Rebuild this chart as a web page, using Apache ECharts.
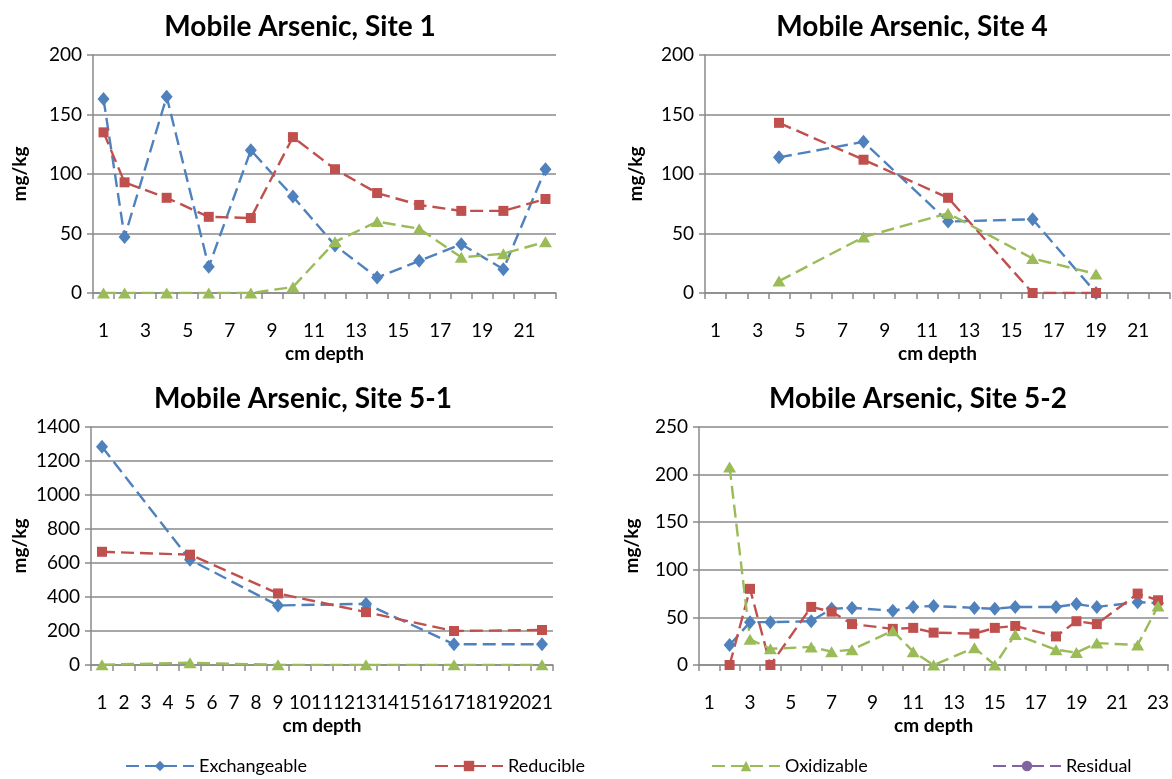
<!DOCTYPE html>
<html>
<head>
<meta charset="utf-8">
<title>Mobile Arsenic</title>
<script src="https://cdn.jsdelivr.net/npm/echarts@6/dist/echarts.min.js"></script>
<style>
  html, body { margin: 0; padding: 0; background: #fff; }
  #chart { width: 1172px; height: 779px; }
</style>
</head>
<body>
<div id="chart"></div>
<script>
// depth categories (cm) for each site
const site1Depth = ['1','2','3','4','5','6','7','8','9','10','11','12','13','14','15','16','17','18','19','20','21','22']
const site4Depth = ['1','2','3','4','5','6','7','8','9','10','11','12','13','14','15','16','17','18','19','20','21','22']
const site51Depth = ['1','2','3','4','5','6','7','8','9','10','11','12','13','14','15','16','17','18','19','20','21']
const site52Depth = ['1','2','3','4','5','6','7','8','9','10','11','12','13','14','15','16','17','18','19','20','21','22','23']

// Site 1 (mg/kg)
const site1Exch = [163, 47, null, 165, null, 22, null, 120, null, 81, null, 40, null, 13, null, 27, null, 41, null, 20, null, 104]
const site1Red = [135, 93, null, 80, null, 64, null, 63, null, 131, null, 104, null, 84, null, 74, null, 69, null, 69, null, 79]
const site1Oxi = [0, 0, null, 0, null, 0, null, 0, null, 5, null, 43, null, 60, null, 54, null, 30, null, 33, null, 43]

// Site 4
const site4Exch = [null, null, null, 114, null, null, null, 127, null, null, null, 60, null, null, null, 62, null, null, 0, null, null, null]
const site4Red = [null, null, null, 143, null, null, null, 112, null, null, null, 80, null, null, null, 0, null, null, 0, null, null, null]
const site4Oxi = [null, null, null, 10, null, null, null, 47, null, null, null, 67, null, null, null, 29, null, null, 16, null, null, null]

// Site 5-1
const site51Exch = [1284, null, null, null, 619, null, null, null, 350, null, null, null, 360, null, null, null, 122, null, null, null, 122]
const site51Red = [666, null, null, null, 649, null, null, null, 421, null, null, null, 311, null, null, null, 200, null, null, null, 206]
const site51Oxi = [2, null, null, null, 13, null, null, null, 1, null, null, null, 1, null, null, null, 1, null, null, null, 1]

// Site 5-2
const site52Exch = [null, 21, 45, 45, null, 46, 59, 60, null, 57, 61, 62, null, 60, 59, 61, null, 61, 64, 61, null, 66, 65]
const site52Red = [null, 0, 80, 0, null, 61, 56, 43, null, 38, 39, 34, null, 33, 39, 41, null, 30, 46, 43, null, 75, 68]
const site52Oxi = [null, 208, 27, 17, null, 19, 14, 16, null, 36, 14, 0, null, 18, 0, 32, null, 16, 13, 23, null, 21, 62]

const titles = ['Mobile Arsenic, Site 1', 'Mobile Arsenic, Site 4', 'Mobile Arsenic, Site 5-1', 'Mobile Arsenic, Site 5-2']
const fractionNames = ['Exchangeable', 'Reducible', 'Oxidizable', 'Residual']

const FONT = 'Lato'
const GRID_GRAY = '#8a8a8a'
const colors = ['#4F81BD', '#C0504D', '#9BBB59', '#8064A2']
const symbols = ['diamond', 'rect', 'triangle', 'circle']
const symbolSizes = [[12, 14], 10, [13, 11], 11]

const grids = [
  { left: 93, top: 55, width: 463, height: 238 },
  { left: 705, top: 55, width: 465, height: 238 },
  { left: 91, top: 427, width: 462, height: 238 },
  { left: 699, top: 427, width: 472, height: 238 },
]

const panels = [
  { depth: site1Depth, data: [site1Exch, site1Red, site1Oxi], max: 200, step: 50, every: 1, nameGap: 64, titleX: 300, titleY: 13 },
  { depth: site4Depth, data: [site4Exch, site4Red, site4Oxi], max: 200, step: 50, every: 1, nameGap: 60, titleX: 912, titleY: 13 },
  { depth: site51Depth, data: [site51Exch, site51Red, site51Oxi], max: 1400, step: 200, every: 0, nameGap: 62, titleX: 303, titleY: 385 },
  { depth: site52Depth, data: [site52Exch, site52Red, site52Oxi], max: 250, step: 50, every: 1, nameGap: 58, titleX: 918, titleY: 385 },
]

let xAxes = []
let yAxes = []
let seriesArr = []
let titleArr = []

panels.forEach((p, i) => {
  titleArr.push({
    text: titles[i],
    left: p.titleX,
    top: p.titleY,
    textAlign: 'center',
    padding: 0,
    textStyle: { fontFamily: FONT, fontSize: 28, fontWeight: 'bold', color: '#000' },
  })
  xAxes.push({
    type: 'category',
    gridIndex: i,
    data: p.depth,
    boundaryGap: true,
    name: 'cm depth',
    nameLocation: 'middle',
    nameGap: 51,
    nameTextStyle: { fontFamily: FONT, fontSize: 19, fontWeight: 'bold', color: '#000' },
    axisLine: { show: true, lineStyle: { color: GRID_GRAY, width: 1.5 } },
    axisTick: { show: true, interval: 0, length: 6, lineStyle: { color: GRID_GRAY, width: 1.5 } },
    axisLabel: { interval: p.every, margin: 28, fontFamily: FONT, fontSize: 19, color: '#000' },
    splitLine: { show: false },
  })
  yAxes.push({
    type: 'value',
    gridIndex: i,
    min: 0,
    max: p.max,
    interval: p.step,
    name: 'mg/kg',
    nameLocation: 'middle',
    nameGap: p.nameGap,
    nameTextStyle: { fontFamily: FONT, fontSize: 19, fontWeight: 'bold', color: '#000' },
    axisLine: { show: true, lineStyle: { color: GRID_GRAY, width: 1.5 } },
    axisTick: { show: true, length: 6, lineStyle: { color: GRID_GRAY, width: 1.5 } },
    axisLabel: { margin: 11, fontFamily: FONT, fontSize: 19, color: '#000', formatter: (v) => String(v) },
    splitLine: { show: true, lineStyle: { color: GRID_GRAY, width: 1.5 } },
  })
  p.data.forEach((vals, k) => {
    seriesArr.push({
      name: fractionNames[k],
      type: 'line',
      xAxisIndex: i,
      yAxisIndex: i,
      connectNulls: true,
      symbol: symbols[k],
      symbolSize: symbolSizes[k],
      showAllSymbol: true,
      itemStyle: { color: colors[k] },
      lineStyle: { color: colors[k], width: 2.4, type: [13, 6] },
      data: vals,
    })
  })
})

// Residual has no values at any site, it only shows in the legend
seriesArr.push({
  name: 'Residual',
  type: 'line',
  xAxisIndex: 0,
  yAxisIndex: 0,
  symbol: symbols[3],
  symbolSize: symbolSizes[3],
  itemStyle: { color: colors[3] },
  lineStyle: { color: colors[3], width: 2.4, type: [13, 6] },
  data: [],
})

const legendLeft = [120, 429, 706, 987]
const legends = fractionNames.map((n, k) => ({
  data: [n],
  left: legendLeft[k],
  top: 752,
  itemWidth: 68,
  itemHeight: 13,
  textStyle: { fontFamily: FONT, fontSize: 18, color: '#000' },
}))

let myChart = echarts.init(document.getElementById('chart'))
myChart.setOption({
  animation: false,
  backgroundColor: '#fff',
  title: titleArr,
  legend: legends,
  grid: grids,
  xAxis: xAxes,
  yAxis: yAxes,
  series: seriesArr,
})
</script>
</body>
</html>
